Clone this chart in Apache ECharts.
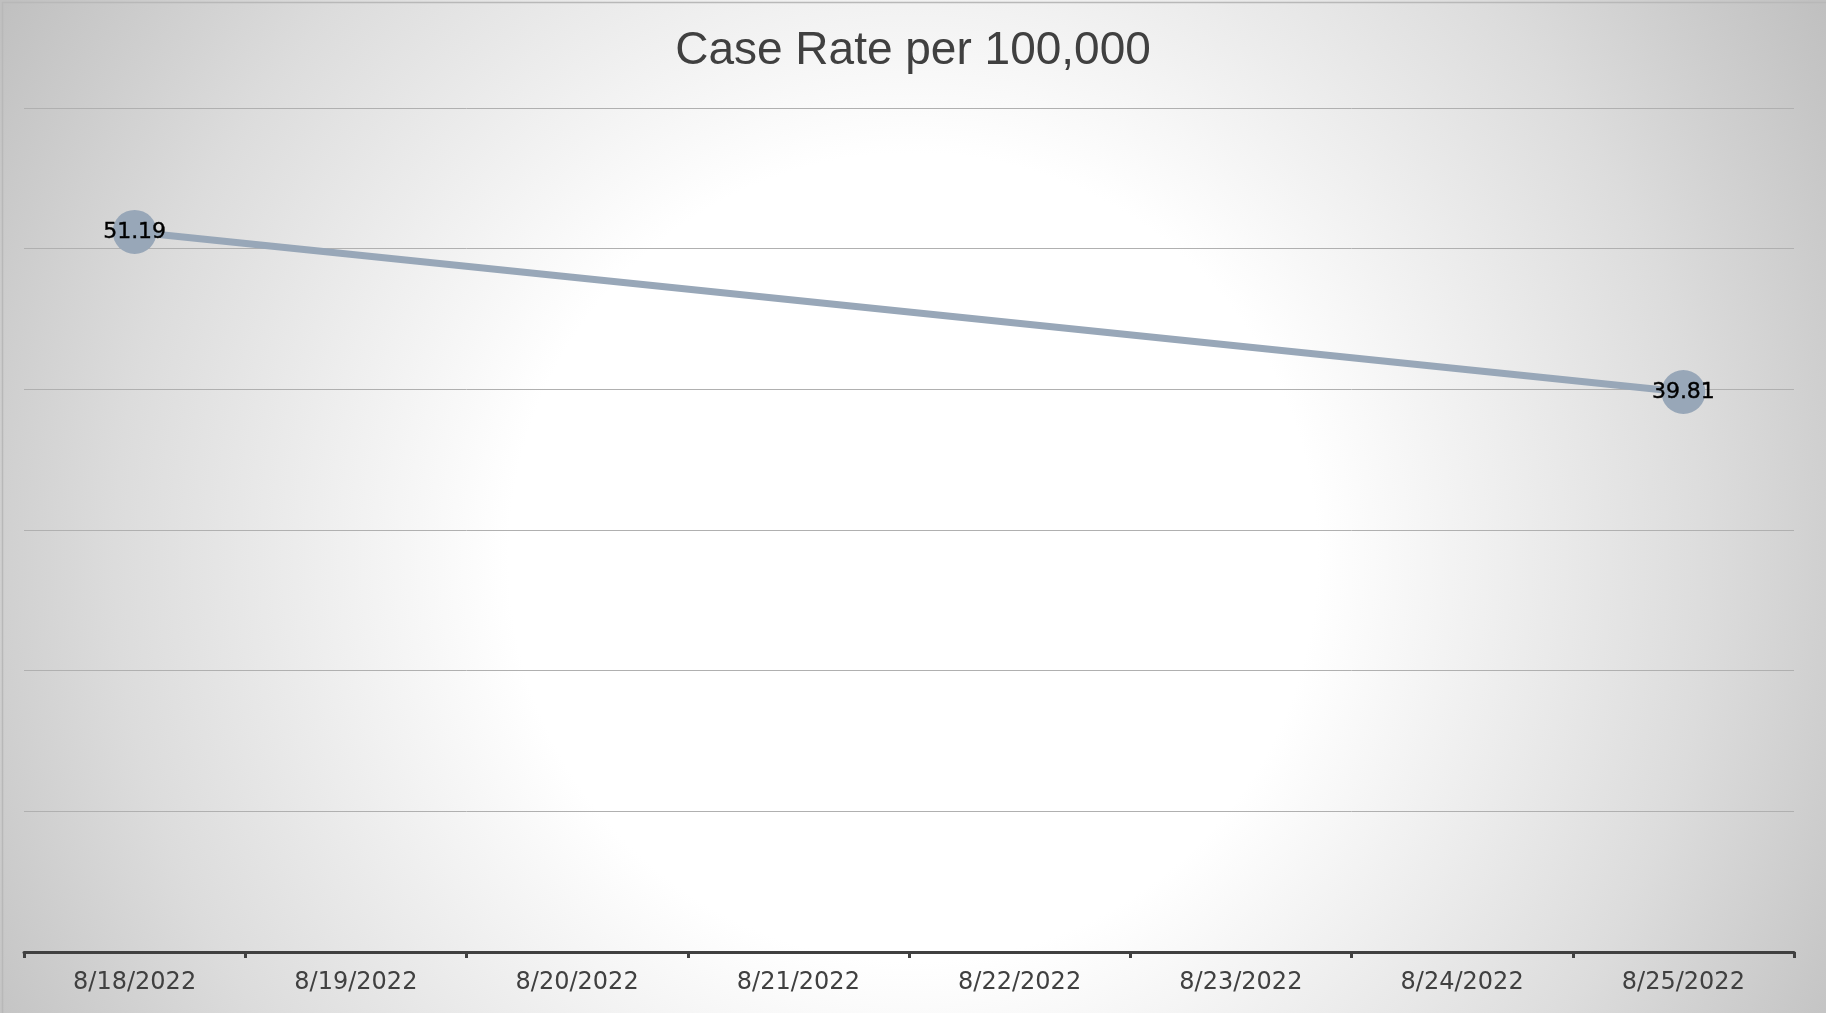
<!DOCTYPE html>
<html>
<head>
<meta charset="utf-8">
<script src="https://cdn.jsdelivr.net/npm/echarts@6/dist/echarts.min.js"></script>
<style>
html,body{margin:0;padding:0;}
#chart{width:1826px;height:1013px;}
</style>
</head>
<body>
<div id="chart"></div>
<script>
const titleText = 'Case Rate per 100,000';
const categories = ['8/18/2022','8/19/2022','8/20/2022','8/21/2022','8/22/2022','8/23/2022','8/24/2022','8/25/2022'];
const caseRate = [51.19, null, null, null, null, null, null, 39.81];
const yMin = 0, yMax = 60, yStep = 10;

const chart = echarts.init(document.getElementById('chart'));
const font = '"Liberation Sans", Arial, sans-serif';
const font2 = '"DejaVu Sans", sans-serif';
chart.setOption({
  animation: false,
  backgroundColor: {
    type: 'radial', x: 0.5, y: 0.55, r: 1.05,
    colorStops: [
      {offset: 0, color: '#ffffff'},
      {offset: 0.38, color: '#ffffff'},
      {offset: 0.75, color: '#dcdcdc'},
      {offset: 1, color: '#c0c0c0'}
    ]
  },
  title: {
    text: titleText, left: 'center', top: 23,
    textStyle: {fontFamily: font, fontSize: 46, fontWeight: 'normal', color: '#404040'}
  },
  graphic: [{
    type: 'rect', left: 0, top: 0, silent: true,
    shape: {width: 1825, height: 1012},
    style: {fill: 'none', stroke: '#b8b8b8', lineWidth: 1.5}
  }],
  grid: {left: 24, right: 32, top: 108, bottom: 61, containLabel: false},
  xAxis: {
    type: 'category', data: categories, boundaryGap: true,
    axisLine: {lineStyle: {color: '#404040', width: 3}},
    axisTick: {show: true, length: 6, alignWithLabel: false, lineStyle: {color: '#404040', width: 3}},
    axisLabel: {fontFamily: font2, fontSize: 24, color: '#404040', margin: 19}
  },
  yAxis: {
    type: 'value', min: yMin, max: yMax, interval: yStep,
    axisLabel: {show: false}, axisLine: {show: false}, axisTick: {show: false},
    splitLine: {lineStyle: {color: '#b0b0b0', width: 1}}
  },
  series: [{
    type: 'line', data: caseRate, connectNulls: true,
    symbol: 'circle', symbolSize: 44,
    itemStyle: {color: '#98a7b8'},
    lineStyle: {color: '#98a7b8', width: 7},
    label: {show: true, position: 'inside', fontFamily: font2, fontSize: 22, color: '#000000',
      textBorderColor: '#000000', textBorderWidth: 0.4,
      formatter: p => p.value.toFixed(2)}
  }]
});
</script>
</body>
</html>
